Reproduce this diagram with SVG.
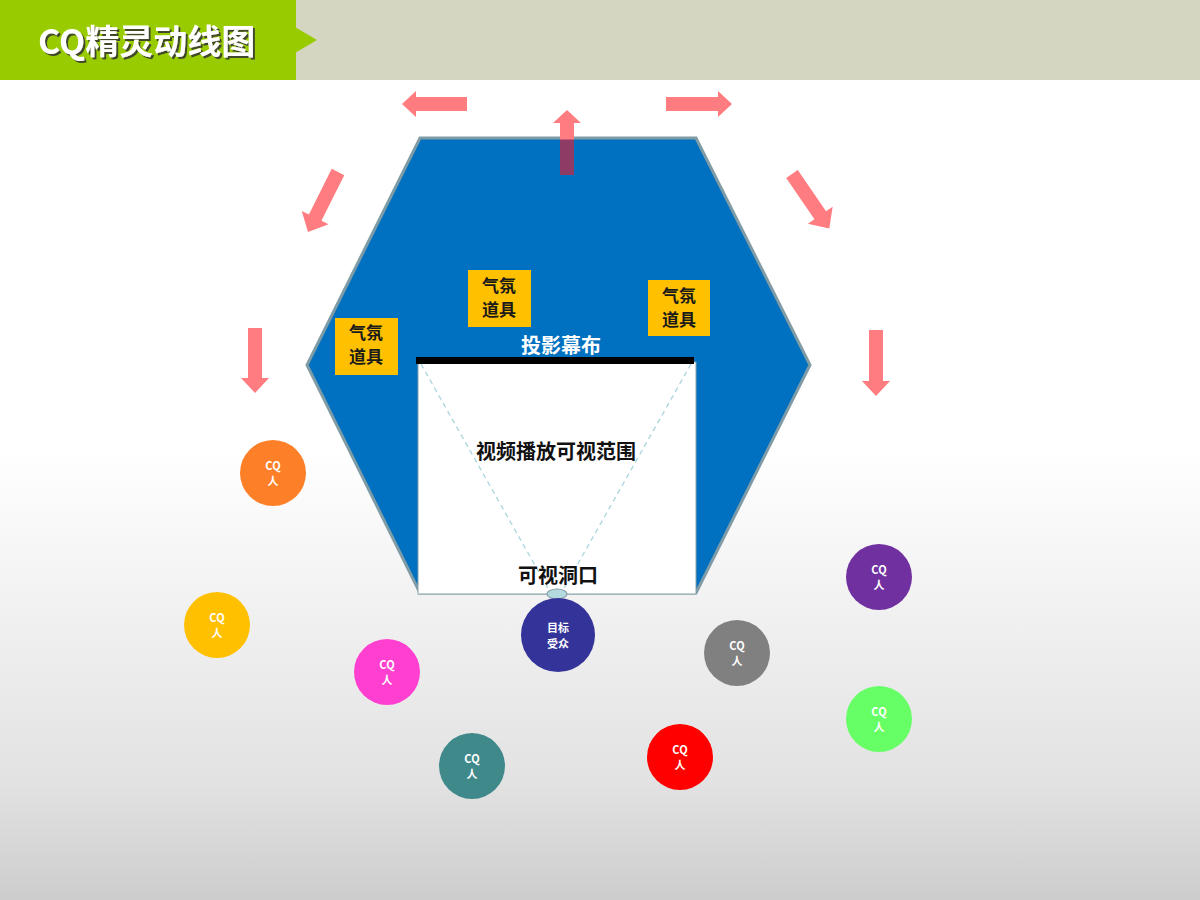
<svg xmlns="http://www.w3.org/2000/svg" width="1200" height="900" viewBox="0 0 1200 900">
  <defs>
    <linearGradient id="bg" gradientUnits="userSpaceOnUse" x1="0" y1="0" x2="0" y2="900">
      <stop offset="0.5" stop-color="#FFFFFF"/>
      <stop offset="0.87" stop-color="#E2E2E2"/>
      <stop offset="1" stop-color="#CDCDCD"/>
    </linearGradient>
    <filter id="shadow" x="-10%" y="-20%" width="130%" height="150%">
      <feDropShadow dx="2" dy="2" stdDeviation="0.6" flood-color="#333333" flood-opacity="0.85"/>
    </filter>
  </defs>
  <style>
    .cjk { font-family: "Noto Sans CJK SC", "Noto Sans", sans-serif; }
    .arrow { fill: #FF7C80; }
    .prop rect { fill: #FFC000; }
    .prop text { font-family: "Noto Sans CJK SC", sans-serif; font-size: 17px; font-weight: bold; fill: #1A1A1A; text-anchor: middle; }
    .person text { font-family: "Noto Sans CJK SC", "Noto Sans", sans-serif; font-size: 11px; font-weight: bold; fill: #FFFFFF; text-anchor: middle; }
    .label { font-family: "Noto Sans CJK SC", sans-serif; font-size: 20px; font-weight: bold; text-anchor: middle; }
  </style>

  <rect x="0" y="0" width="1200" height="900" fill="url(#bg)"/>

  <g id="header">
    <rect x="296" y="0" width="904" height="80" fill="#D5D6C2"/>
    <rect x="0" y="0" width="296" height="80" fill="#99CC00"/>
    <polygon points="295,27 317,40 295,53" fill="#99CC00"/>
    <text x="38" y="54" class="cjk" font-size="34" font-weight="bold" fill="#FFFFFF" filter="url(#shadow)">CQ精灵动线图</text>
  </g>

  <g id="stage">
    <polygon points="420,138 696,138 810,365 696,593 420,593 307,365" fill="#0070C0" stroke="#7F9CA6" stroke-width="3"/>
  </g>

  <g id="view-area">
    <rect x="418" y="362" width="278" height="232" fill="#FFFFFF" stroke="#8AA0A8" stroke-width="1"/>
    <line x1="421" y1="364" x2="549" y2="590" stroke="#A9D6DC" stroke-width="1.3" stroke-dasharray="5,4"/>
    <line x1="691" y1="364" x2="563" y2="590" stroke="#A9D6DC" stroke-width="1.3" stroke-dasharray="5,4"/>
    <text x="556" y="459" class="label" fill="#111111">视频播放可视范围</text>
    <text x="558" y="583" class="label" fill="#111111">可视洞口</text>
  </g>

  <g id="screen">
    <rect x="416" y="357" width="278" height="7" fill="#000000"/>
    <text x="561" y="353" class="label" fill="#FFFFFF">投影幕布</text>
  </g>

  <g id="prop-1" class="prop">
    <rect x="335" y="318" width="63" height="57"/>
    <text x="366" y="339">气氛</text>
    <text x="366" y="363">道具</text>
  </g>
  <g id="prop-2" class="prop">
    <rect x="468" y="270" width="63" height="57"/>
    <text x="499" y="292">气氛</text>
    <text x="499" y="316">道具</text>
  </g>
  <g id="prop-3" class="prop">
    <rect x="648" y="280" width="62" height="56"/>
    <text x="679" y="302">气氛</text>
    <text x="679" y="326">道具</text>
  </g>

  <g id="arrows">
    <polygon class="arrow" points="467,97 416,97 416,91 402,104 416,117 416,111 467,111"/>
    <polygon class="arrow" points="666,97 718,97 718,91 732,104 718,117 718,111 666,111"/>
    <polygon class="arrow" points="560,175 560,123 553,123 567,110 581,123 574,123 574,175"/>
    <rect x="560" y="139.5" width="14" height="35.5" fill="#8E3B66"/>
    <polygon class="arrow" points="-7,0 7,0 7,51 15,51 0,67 -15,51 -7,51" transform="translate(338,172) rotate(26.6)"/>
    <polygon class="arrow" points="-7,0 7,0 7,50 15,50 0,66 -15,50 -7,50" transform="translate(792,174) rotate(-34.4)"/>
    <polygon class="arrow" points="248,328 262,328 262,378 269,378 255,393 241,378 248,378"/>
    <polygon class="arrow" points="869,330 883,330 883,381 890,381 876,396 862,381 869,381"/>
  </g>

  <g id="aperture">
    <ellipse cx="557" cy="594" rx="10" ry="5" fill="#B4DADF" stroke="#8AA0A8" stroke-width="1.2"/>
  </g>

  <g id="target-audience" class="person">
    <circle cx="558" cy="635" r="37" fill="#333399"/>
    <text x="558" y="632" font-size="13">目标</text>
    <text x="558" y="648" font-size="13">受众</text>
  </g>

  <g id="cq-orange" class="person">
    <circle cx="273" cy="473" r="33" fill="#FD7F27"/>
    <text x="273" y="470">CQ</text><text x="273" y="485">人</text>
  </g>
  <g id="cq-yellow" class="person">
    <circle cx="217" cy="625" r="33" fill="#FFC000"/>
    <text x="217" y="622">CQ</text><text x="217" y="637">人</text>
  </g>
  <g id="cq-magenta" class="person">
    <circle cx="387" cy="672" r="33" fill="#FF3FCF"/>
    <text x="387" y="669">CQ</text><text x="387" y="684">人</text>
  </g>
  <g id="cq-teal" class="person">
    <circle cx="472" cy="766" r="33" fill="#3F898B"/>
    <text x="472" y="763">CQ</text><text x="472" y="778">人</text>
  </g>
  <g id="cq-gray" class="person">
    <circle cx="737" cy="653" r="33" fill="#808080"/>
    <text x="737" y="650">CQ</text><text x="737" y="665">人</text>
  </g>
  <g id="cq-red" class="person">
    <circle cx="680" cy="757" r="33" fill="#FF0000"/>
    <text x="680" y="754">CQ</text><text x="680" y="769">人</text>
  </g>
  <g id="cq-purple" class="person">
    <circle cx="879" cy="577" r="33" fill="#7030A0"/>
    <text x="879" y="574">CQ</text><text x="879" y="589">人</text>
  </g>
  <g id="cq-green" class="person">
    <circle cx="879" cy="719" r="33" fill="#66FF66"/>
    <text x="879" y="716">CQ</text><text x="879" y="731">人</text>
  </g>
</svg>
